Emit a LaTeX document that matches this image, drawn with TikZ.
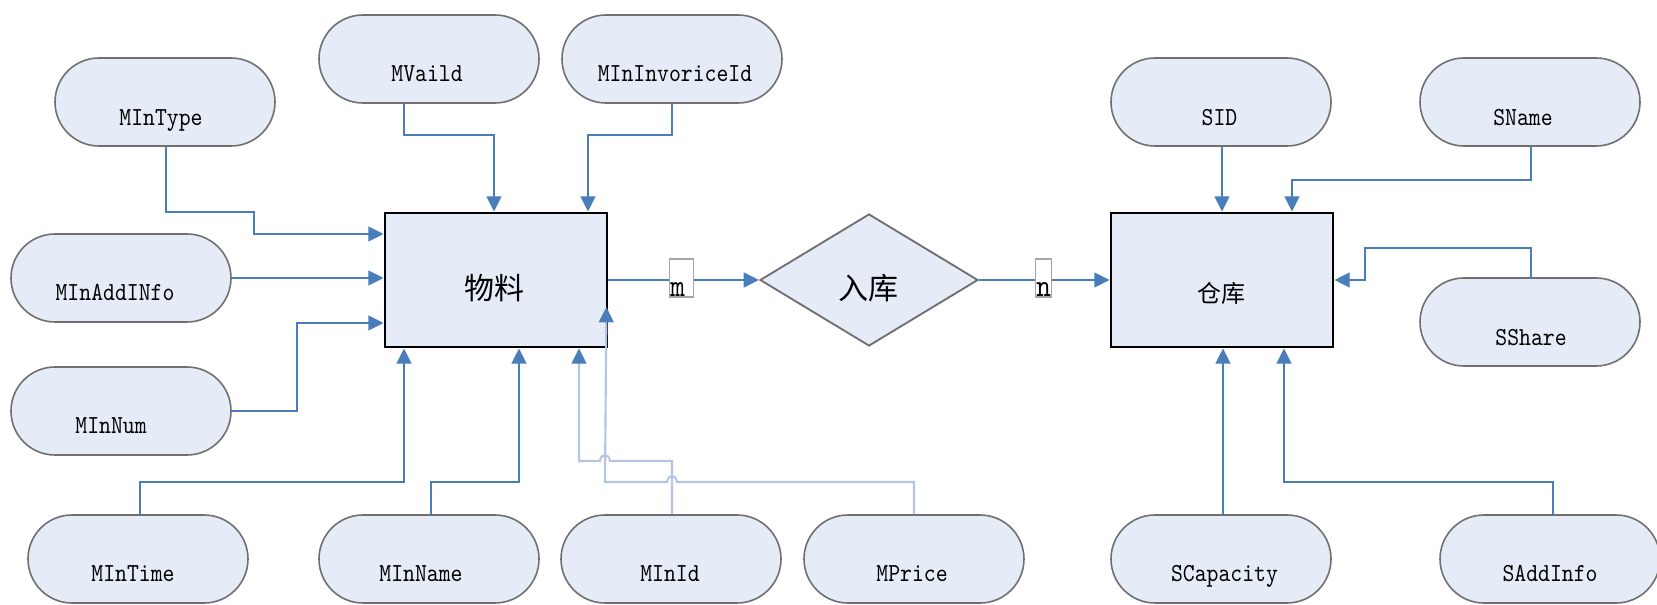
\documentclass[tikz,border=0pt]{standalone}
\usepackage{fontspec}
\usetikzlibrary{arrows.meta,calc,shapes.geometric}
\newfontfamily\attrfont[FakeStretch=0.87]{lmmono10-regular.otf}
\newfontfamily\cjkfont{Noto Sans CJK SC}
\definecolor{linkblue}{HTML}{4A7EBB}
\definecolor{ghostblue}{HTML}{B4C5E2}
\definecolor{shapefill}{HTML}{E6ECF7}
\definecolor{shapeedge}{HTML}{707070}
\definecolor{tagedge}{HTML}{A6A6A6}

% attribute: name, centre, text, text offset (dx, baseline dy)
\newcommand\attrnode[4]{%
  \node[attrshape] (#1) at (#2) {};
  \node[attrtext] (#1-t) at ($(#1.center)+(#4)$) {#3};}

\begin{document}
\begin{tikzpicture}[x=0.75pt,y=-0.75pt,
  attrshape/.style={draw=shapeedge, line width=1.2pt, fill=shapefill,
    rounded corners=33pt, minimum width=165pt, minimum height=66pt, inner sep=0pt},
  attrtext/.style={font=\attrfont\fontsize{19.5pt}{20pt}\selectfont, anchor=base, inner sep=0pt},
  entity/.style={draw=black, line width=2.1pt, fill=shapefill,
    minimum width=166.5pt, minimum height=100.5pt, inner sep=0pt},
  relation/.style={diamond, draw=shapeedge, line width=1.4pt, fill=shapefill,
    minimum width=163.5pt, minimum height=99pt, inner sep=0pt},
  cjktext/.style={font=\cjkfont\fontsize{#1}{#1}\selectfont, inner sep=0pt},
  link/.style={draw=linkblue, line width=1.9pt, -{Triangle[width=11pt,length=11.5pt]}},
  ghost/.style={draw=ghostblue, line width=1.6pt,
    -{Triangle[width=11pt,length=11.5pt,color=linkblue,fill=linkblue]}},
  tagbox/.style={draw=tagedge, line width=0.8pt, fill=white, inner sep=0pt},
  tagtext/.style={font=\attrfont\fontsize{24pt}{24pt}\selectfont, anchor=base west, inner sep=0pt}
]
\useasboundingbox (0,0) rectangle (1657,605);

% entities and relationship
\node[entity] (wl) at (496,280) {};
\node[cjktext=22.5pt] (wl-t) at (494.5,288) {物料};
\node[relation] (rk) at (869,280) {};
\node[cjktext=22.5pt] (rk-t) at (868,288) {入库};
\node[entity] (ck) at (1222,280) {};
\node[cjktext=18pt] (ck-t) at (1221,293) {仓库};

% attributes of 物料
\attrnode{mintype}{165,102}{MInType}{-4,24}
\attrnode{mvaild}{429,59}{MVaild}{-2,23}
\attrnode{minvoice}{672,59}{MInInvoriceId}{3,23}
\attrnode{maddinfo}{121,278}{MInAddINfo}{-6,23}
\attrnode{minnum}{121,411}{MInNum}{-10,23}
\attrnode{mintime}{138,559}{MInTime}{-5,23}
\attrnode{minname}{429,559}{MInName}{-8,23}
\attrnode{minid}{671,559}{MInId}{-1,23}
\attrnode{mprice}{914,559}{MPrice}{-2,23}

% attributes of 仓库
\attrnode{sid}{1221,102}{SID}{-1.5,24}
\attrnode{sname}{1530,102}{SName}{-7,24}
\attrnode{sshare}{1530,322}{SShare}{1,24}
\attrnode{scapacity}{1221,559}{SCapacity}{3.5,23}
\attrnode{saddinfo}{1550,559}{SAddInfo}{0,23}

% connectors into 物料
\draw[link] ($(mintype.south)+(1,0)$) |- (254,212) |- ($(wl.west)+(0,-46)$);
\draw[link] (maddinfo.east) -- (maddinfo.east -| wl.west);
\draw[link] (minnum.east) -| (297,323) -- ($(wl.west)+(0,43)$);
\draw[link] ($(mintime.north)+(2,0)$) |- (404,482) -- ($(wl.south)+(-92,0)$);
\draw[link] ($(minname.north)+(2,0)$) |- (519,482) -- ($(wl.south)+(23,0)$);
\draw[link] ($(mvaild.south)+(-25,0)$) |- (494,135) -- ($(wl.north)+(-2,0)$);
\draw[link] (minvoice.south) |- (588,135) -- ($(wl.north)+(92,0)$);
\draw[ghost] ($(minid.north)+(1,0)$) -- (672,461) -- (610,461)
  .. controls (609,453) and (601,453) .. (600,461) -- (579,461)
  -- ($(wl.south)+(83,0)$);
\draw[ghost] (mprice.north) -- (914,482) -- (677,482)
  .. controls (676,474) and (668,474) .. (667,482) -- (605,482)
  -- ($(wl.east)+(-2,27)$);

% connectors into 仓库
\draw[link] ($(sid.south)+(1,0)$) -- (ck.north);
\draw[link] ($(sname.south)+(1,0)$) |- (1292,180) -- ($(ck.north)+(70,0)$);
\draw[link] ($(sshare.north)+(1,0)$) |- (1365,248) |- (ck.east);
\draw[link] ($(scapacity.north)+(2,0)$) -- ($(ck.south)+(1,0)$);
\draw[link] ($(saddinfo.north)+(3,0)$) |- (1284,482) -- ($(ck.south)+(62,0)$);

% relationship links with cardinalities
\draw[link] (wl.east) -- (rk.west);
\draw[link] (rk.east) -- (ck.west);
\node[tagbox, minimum width=17.5pt, minimum height=28.5pt] (mtag) at (681.5,278) {};
\node[tagtext] (mtag-t) at (670,297) {m};
\node[tagbox, minimum width=12.5pt, minimum height=28.5pt] (ntag) at (1043.5,278) {};
\node[tagtext] (ntag-t) at (1036,297) {n};
\end{tikzpicture}
\end{document}
